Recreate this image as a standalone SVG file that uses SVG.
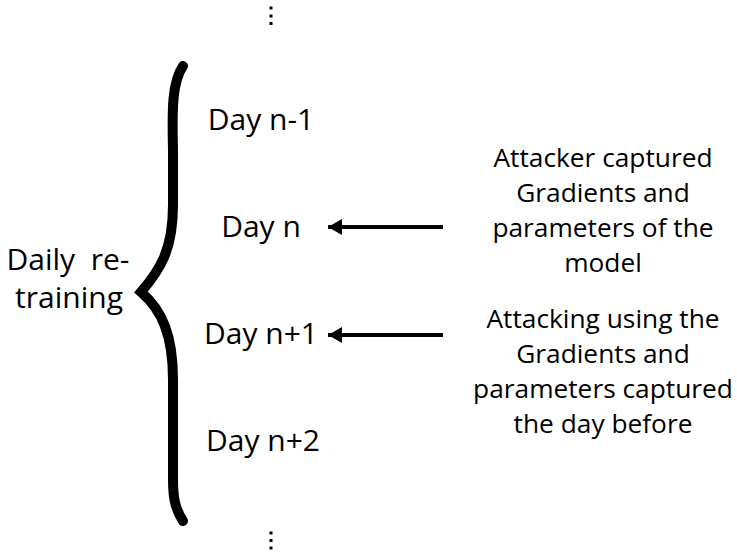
<svg xmlns="http://www.w3.org/2000/svg" width="737" height="560" viewBox="0 0 737 560">
<style>
text{font-family:"Open Sans","DejaVu Sans",sans-serif;fill:#000}
.day{font-size:30px;text-anchor:middle}
.note{font-size:26.3px;text-anchor:middle}
.side{font-size:30px;text-anchor:middle}
.conn{stroke:#000;stroke-width:4;fill:none}
</style>
<defs>
<marker id="ah" markerWidth="4" markerHeight="4" refX="3.5" refY="2" orient="auto" markerUnits="strokeWidth">
<path d="M0,0 L3.5,2 L0,4 Z" fill="#000"/>
</marker>
</defs>
<rect width="737" height="560" fill="#fff"/>
<g id="dots-top" fill="#000">
<rect x="269.5" y="6.5" width="3" height="3"/>
<rect x="269.5" y="14.5" width="3" height="3"/>
<rect x="269.5" y="22" width="3" height="3"/>
</g>
<g id="dots-bottom" fill="#000">
<rect x="269.5" y="531.5" width="3" height="3"/>
<rect x="269.5" y="539" width="3" height="3"/>
<rect x="269.5" y="546.5" width="3" height="3"/>
</g>
<g id="brace">
<path d="M183,66 C172,82 172,110 173,150 L173,205 C173,250 160,270 141,292 C162,310 173,335 173,380 L173,480 C173,500 176,510 183,521" stroke="#000" stroke-width="10" fill="none" stroke-linecap="round" stroke-linejoin="miter"/>
</g>
<g id="daily"><text class="side" x="68" y="270" xml:space="preserve">Daily  re-</text><text class="side" x="69" y="308">training</text></g>
<g id="day-n-1"><text class="day" x="261" y="130">Day n-1</text></g>
<g id="day-n"><text class="day" x="261" y="237">Day n</text></g>
<g id="day-n+1"><text class="day" x="261" y="344">Day n+1</text></g>
<g id="day-n+2"><text class="day" x="263" y="451">Day n+2</text></g>
<g id="note-capture">
<text class="note" x="603" y="167">Attacker captured</text>
<text class="note" x="603" y="202">Gradients and</text>
<text class="note" x="603" y="237">parameters of the</text>
<text class="note" x="603" y="272">model</text>
</g>
<g id="note-attack">
<text class="note" x="603" y="328">Attacking using the</text>
<text class="note" x="603" y="363">Gradients and</text>
<text class="note" x="603" y="398">parameters captured</text>
<text class="note" x="603" y="433">the day before</text>
</g>
<g id="connectors">
<line class="conn" x1="443" y1="227" x2="328" y2="227" marker-end="url(#ah)"/>
<line class="conn" x1="443" y1="335" x2="328" y2="335" marker-end="url(#ah)"/>
</g>
</svg>
